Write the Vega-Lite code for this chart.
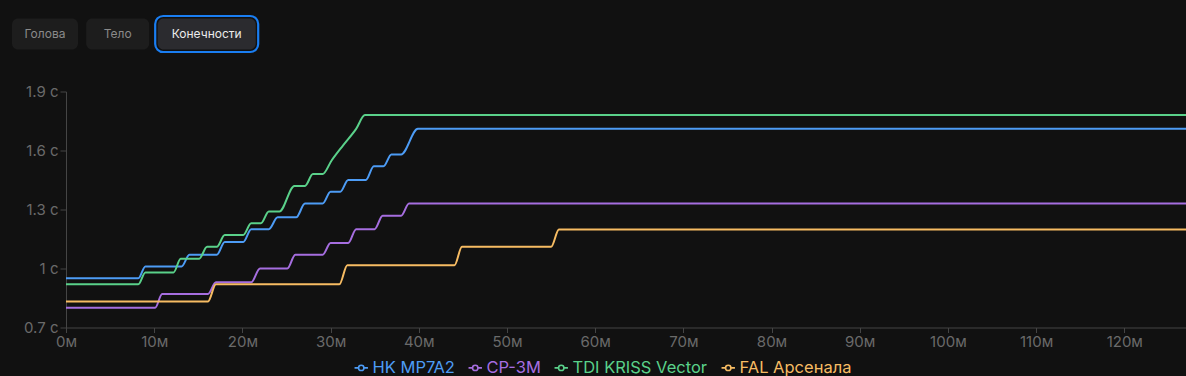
{
  "$schema": "https://vega.github.io/schema/vega-lite/v6.json",
  "width": 1120,
  "height": 236,
  "autosize": {"type": "pad"},
  "padding": {"left": 12, "top": 14.5, "right": 0, "bottom": 2},
  "background": "#111111",
  "config": {
    "view": {"stroke": null},
    "font": "Inter",
    "axis": {"labelFont": "Inter", "domainColor": "#454545", "tickColor": "#454545", "labelColor": "#6a6a6a", "labelFontSize": 15, "grid": false, "title": null, "labelFlush": false}
  },
  "datasets": {
    "lines": [
      {"series": "HK MP7A2", "m": 0, "t": 0.95}, {"series": "HK MP7A2", "m": 8.2, "t": 0.95}, {"series": "HK MP7A2", "m": 9.0, "t": 1.01},
      {"series": "HK MP7A2", "m": 13.1, "t": 1.01}, {"series": "HK MP7A2", "m": 14.0, "t": 1.07}, {"series": "HK MP7A2", "m": 17.1, "t": 1.07},
      {"series": "HK MP7A2", "m": 18.0, "t": 1.135}, {"series": "HK MP7A2", "m": 20.1, "t": 1.135}, {"series": "HK MP7A2", "m": 21.0, "t": 1.2},
      {"series": "HK MP7A2", "m": 23.0, "t": 1.2}, {"series": "HK MP7A2", "m": 24.0, "t": 1.26}, {"series": "HK MP7A2", "m": 26.1, "t": 1.26},
      {"series": "HK MP7A2", "m": 27.1, "t": 1.33}, {"series": "HK MP7A2", "m": 29.1, "t": 1.33}, {"series": "HK MP7A2", "m": 30.0, "t": 1.39},
      {"series": "HK MP7A2", "m": 31.1, "t": 1.39}, {"series": "HK MP7A2", "m": 32.0, "t": 1.45}, {"series": "HK MP7A2", "m": 34.0, "t": 1.45},
      {"series": "HK MP7A2", "m": 34.9, "t": 1.52}, {"series": "HK MP7A2", "m": 36.0, "t": 1.52}, {"series": "HK MP7A2", "m": 36.9, "t": 1.58},
      {"series": "HK MP7A2", "m": 38.0, "t": 1.58}, {"series": "HK MP7A2", "m": 39.9, "t": 1.71}, {"series": "HK MP7A2", "m": 127, "t": 1.71},
      {"series": "CP-3M", "m": 0, "t": 0.8}, {"series": "CP-3M", "m": 10.1, "t": 0.8}, {"series": "CP-3M", "m": 10.9, "t": 0.87},
      {"series": "CP-3M", "m": 16.1, "t": 0.87}, {"series": "CP-3M", "m": 17.0, "t": 0.93}, {"series": "CP-3M", "m": 21.0, "t": 0.93},
      {"series": "CP-3M", "m": 22.0, "t": 1.0}, {"series": "CP-3M", "m": 25.1, "t": 1.0}, {"series": "CP-3M", "m": 26.0, "t": 1.07},
      {"series": "CP-3M", "m": 29.1, "t": 1.07}, {"series": "CP-3M", "m": 30.0, "t": 1.13}, {"series": "CP-3M", "m": 32.0, "t": 1.13},
      {"series": "CP-3M", "m": 32.9, "t": 1.2}, {"series": "CP-3M", "m": 35.0, "t": 1.2}, {"series": "CP-3M", "m": 35.9, "t": 1.268},
      {"series": "CP-3M", "m": 38.0, "t": 1.268}, {"series": "CP-3M", "m": 38.9, "t": 1.33}, {"series": "CP-3M", "m": 127, "t": 1.33},
      {"series": "TDI KRISS Vector", "m": 0, "t": 0.92}, {"series": "TDI KRISS Vector", "m": 8.2, "t": 0.92}, {"series": "TDI KRISS Vector", "m": 9.0, "t": 0.98},
      {"series": "TDI KRISS Vector", "m": 12.2, "t": 0.98}, {"series": "TDI KRISS Vector", "m": 13.0, "t": 1.05}, {"series": "TDI KRISS Vector", "m": 15.1, "t": 1.05},
      {"series": "TDI KRISS Vector", "m": 16.0, "t": 1.11}, {"series": "TDI KRISS Vector", "m": 17.1, "t": 1.11}, {"series": "TDI KRISS Vector", "m": 18.0, "t": 1.17},
      {"series": "TDI KRISS Vector", "m": 20.1, "t": 1.17}, {"series": "TDI KRISS Vector", "m": 21.0, "t": 1.23}, {"series": "TDI KRISS Vector", "m": 22.1, "t": 1.23},
      {"series": "TDI KRISS Vector", "m": 23.0, "t": 1.29}, {"series": "TDI KRISS Vector", "m": 24.2, "t": 1.29}, {"series": "TDI KRISS Vector", "m": 25.9, "t": 1.42},
      {"series": "TDI KRISS Vector", "m": 27.1, "t": 1.42}, {"series": "TDI KRISS Vector", "m": 28.0, "t": 1.48}, {"series": "TDI KRISS Vector", "m": 29.1, "t": 1.48},
      {"series": "TDI KRISS Vector", "m": 30.1, "t": 1.548}, {"series": "TDI KRISS Vector", "m": 31.4, "t": 1.625}, {"series": "TDI KRISS Vector", "m": 32.9, "t": 1.71},
      {"series": "TDI KRISS Vector", "m": 33.9, "t": 1.78}, {"series": "TDI KRISS Vector", "m": 127, "t": 1.78},
      {"series": "FAL Арсенала", "m": 0, "t": 0.832}, {"series": "FAL Арсенала", "m": 16.1, "t": 0.832}, {"series": "FAL Арсенала", "m": 17.0, "t": 0.92},
      {"series": "FAL Арсенала", "m": 31.0, "t": 0.92}, {"series": "FAL Арсенала", "m": 31.9, "t": 1.017}, {"series": "FAL Арсенала", "m": 44.05, "t": 1.017},
      {"series": "FAL Арсенала", "m": 44.9, "t": 1.11}, {"series": "FAL Арсенала", "m": 55.0, "t": 1.11}, {"series": "FAL Арсенала", "m": 55.9, "t": 1.198},
      {"series": "FAL Арсенала", "m": 127, "t": 1.198}
    ],
    "buttons": [
      {"label": "Голова", "idx": 0, "active": false},
      {"label": "Тело", "idx": 1, "active": false},
      {"label": "Конечности", "idx": 2, "active": true}
    ]
  },
  "layer": [
    {
      "data": {"name": "lines"},
      "mark": {"type": "line", "interpolate": "monotone", "strokeWidth": 2},
      "encoding": {
        "x": {
          "field": "m", "type": "quantitative",
          "scale": {"domain": [0, 127], "nice": false, "zero": false},
          "axis": {"orient": "bottom", "values": [0, 10, 20, 30, 40, 50, 60, 70, 80, 90, 100, 110, 120], "labelExpr": "datum.value + 'м'", "tickSize": 5, "labelPadding": 2}
        },
        "y": {
          "field": "t", "type": "quantitative",
          "scale": {"domain": [0.7, 1.9], "nice": false, "zero": false},
          "axis": {"orient": "left", "values": [0.7, 1.0, 1.3, 1.6, 1.9], "format": "~g", "labelExpr": "datum.label + ' с'", "tickSize": 6, "labelPadding": 2}
        },
        "color": {
          "field": "series", "type": "nominal",
          "scale": {"domain": ["HK MP7A2", "CP-3M", "TDI KRISS Vector", "FAL Арсенала"], "range": ["#4d9cf5", "#a66ee0", "#5ad18a", "#f7bc63"]},
          "legend": {
            "orient": "none", "legendX": 287, "legendY": 268, "direction": "horizontal",
            "title": null, "labelFontSize": 16.5, "labelFont": "Inter", "columnPadding": 10, "symbolSize": 180,
            "symbolType": "M-1,0L-0.4,0M0.4,0L1,0M-0.4,0A0.4,0.4 0 1,1 0.4,0A0.4,0.4 0 1,1 -0.4,0",
            "symbolStrokeWidth": 1.6, "symbolFillColor": "transparent", "labelOffset": 3,
            "encode": {"labels": {"update": {"fill": {"scale": "color", "field": "value"}}}}
          }
        }
      }
    },
    {
      "data": {"name": "buttons"},
      "encoding": {
        "x": {"field": "idx", "type": "quantitative", "scale": {"domain": [0, 1, 2], "range": [-21, 51.7, 140.7], "zero": false, "nice": false}, "axis": null},
        "y": {"datum": 0, "type": "quantitative", "scale": {"domain": [0, 1], "range": [-57.5, 0], "zero": false, "nice": false}, "axis": null}
      },
      "layer": [
        {
          "transform": [{"filter": "datum.active"}],
          "mark": {"type": "tick", "orient": "horizontal", "thickness": 36, "size": 103, "cornerRadius": 8, "fill": "#111111", "stroke": "#1a7ef2", "strokeWidth": 2.2, "opacity": 1}
        },
        {
          "mark": {"type": "tick", "orient": "horizontal", "thickness": 31, "cornerRadius": 6, "opacity": 1},
          "encoding": {
            "size": {"condition": [{"test": "datum.idx == 2", "value": 98}, {"test": "datum.idx == 1", "value": 63}], "value": 66},
            "color": {"condition": {"test": "datum.active", "value": "#2b2b2f"}, "value": "#1d1d1d"}
          }
        },
        {
          "mark": {"type": "text", "fontSize": 12, "font": "Inter", "align": "center", "baseline": "middle"},
          "encoding": {
            "text": {"field": "label"},
            "color": {"condition": {"test": "datum.active", "value": "#ececec"}, "value": "#8a8a8a"},
            "fontWeight": {"condition": {"test": "datum.active", "value": 600}, "value": 400}
          }
        }
      ]
    }
  ],
  "resolve": {"scale": {"x": "independent", "y": "independent"}}
}
